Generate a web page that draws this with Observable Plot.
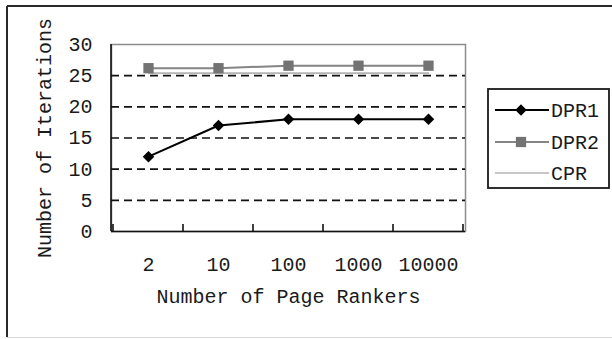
<!DOCTYPE html>
<html>
<head>
<meta charset="utf-8">
<script src="https://cdn.jsdelivr.net/npm/d3@7"></script>
<script src="https://cdn.jsdelivr.net/npm/@observablehq/plot@0.6"></script>
<style>
  html, body { margin: 0; padding: 0; background: #fff; }
  #chart { position: relative; width: 612px; height: 339px; overflow: hidden; }
</style>
</head>
<body>
<div id="chart"></div>
<script>
// Iterations needed to converge vs. number of page rankers
const categories = ["2", "10", "100", "1000", "10000"];
const dpr1 = [12, 17, 18, 18, 18];
const dpr2 = [26.2, 26.2, 26.6, 26.6, 26.6];
const cpr = [25.4, 25.4, 25.4, 25.4, 25.4];
const yTicks = [0, 5, 10, 15, 20, 25, 30];
const gridValues = [5, 10, 15, 20, 25];
const seriesNames = ["DPR1", "DPR2", "CPR"];
const xTitle = "Number of Page Rankers";
const yTitle = "Number of Iterations";

const rows = (vals) => categories.map((c, i) => ({cat: c, v: vals[i]}));
const d1 = rows(dpr1), d2 = rows(dpr2), d3c = rows(cpr);

const font = "'Liberation Mono', 'DejaVu Sans Mono', monospace";
const ink = "#1a1a1a";
const diamondR = 5.2, squareR = 5.8;

const chart = Plot.plot({
  width: 612,
  height: 339,
  marginLeft: 111,
  marginRight: 147,
  marginTop: 44,
  marginBottom: 108,
  x: {type: "band", domain: categories, padding: 0},
  y: {domain: [0, 30]},
  style: {fontFamily: font, fontSize: "20px", color: ink, background: "transparent", overflow: "visible"},
  marks: [
    Plot.frame({stroke: "#8c8c8c", strokeWidth: 1.5}),
    Plot.ruleY(gridValues, {stroke: "#111", strokeWidth: 1.6, strokeDasharray: "8,5"}),
    Plot.ruleY([0], {stroke: "#111", strokeWidth: 1.6}),
    Plot.axisY(yTicks, {tickSize: 0, tickPadding: 19, label: null, fontSize: 20}),
    Plot.axisX({tickSize: 0, tickPadding: 25, label: null, fontSize: 20}),
    Plot.line(d3c, {x: "cat", y: "v", stroke: "#b4b4b4", strokeWidth: 1.6}),
    Plot.line(d2, {x: "cat", y: "v", stroke: "#858585", strokeWidth: 2}),
    Plot.dot(d2, {x: "cat", y: "v", symbol: "square", r: squareR, fill: "#737373", stroke: "none"}),
    Plot.line(d1, {x: "cat", y: "v", stroke: "#000", strokeWidth: 2}),
    Plot.dot(d1, {x: "cat", y: "v", symbol: "diamond2", r: diamondR, fill: "#000", stroke: "none"}),
    Plot.text([yTitle], {text: d => d, frameAnchor: "left", textAnchor: "middle", rotate: -90, dx: -67, fontSize: 20, fill: ink}),
    Plot.text([xTitle], {text: d => d, frameAnchor: "bottom", textAnchor: "middle", dy: 71, fontSize: 20, fill: ink})
  ]
});

document.getElementById("chart").appendChild(chart);

// Extra decoration drawn with the plot's own scales
const svg = d3.select(chart);
const xs = chart.scale("x"), ys = chart.scale("y");
const x0 = xs.range[0];
const yBottom = ys.apply(0), yTop = ys.apply(30);

// Left axis line
svg.append("line")
  .attr("x1", x0).attr("x2", x0).attr("y1", yTop).attr("y2", yBottom)
  .attr("stroke", "#111").attr("stroke-width", 1.6);

// Category boundary ticks pointing into the plot
const bounds = categories.map(c => xs.apply(c)).concat([xs.apply(categories[categories.length - 1]) + xs.bandwidth]);
svg.append("g").selectAll("line").data(bounds).join("line")
  .attr("x1", d => d).attr("x2", d => d)
  .attr("y1", yBottom).attr("y2", yBottom - 7)
  .attr("stroke", "#111").attr("stroke-width", 1.6);

// Outer chart border
const border = svg.append("g");
border.append("line").attr("x1", 7).attr("x2", 7).attr("y1", 6).attr("y2", 337)
  .attr("stroke", "#2a2a2a").attr("stroke-width", 2);
border.append("line").attr("x1", 7).attr("x2", 612).attr("y1", 6).attr("y2", 6)
  .attr("stroke", "#2a2a2a").attr("stroke-width", 2);
border.append("line").attr("x1", 7).attr("x2", 612).attr("y1", 337.5).attr("y2", 337.5)
  .attr("stroke", "#d8d8d8").attr("stroke-width", 1);

// Legend
const lg = svg.append("g").attr("font-family", font).attr("font-size", 20)
  .attr("fill", ink).attr("text-anchor", "start");
lg.append("rect").attr("x", 488).attr("y", 89).attr("width", 121).attr("height", 99)
  .attr("fill", "white").attr("stroke", "#1a1a1a").attr("stroke-width", 1.8);
const entryY = [110, 142, 173];
const lineStyle = [
  {stroke: "#000", width: 2},
  {stroke: "#858585", width: 2},
  {stroke: "#b4b4b4", width: 1.6}
];
seriesNames.forEach((name, i) => {
  const y = entryY[i];
  lg.append("line").attr("x1", 495).attr("x2", 549).attr("y1", y).attr("y2", y)
    .attr("stroke", lineStyle[i].stroke).attr("stroke-width", lineStyle[i].width);
  if (i === 0) {
    lg.append("path").attr("transform", `translate(521,${y})`)
      .attr("d", d3.symbol(d3.symbolDiamond2, Math.PI * diamondR * diamondR)()).attr("fill", "#000");
  } else if (i === 1) {
    lg.append("path").attr("transform", `translate(521,${y})`)
      .attr("d", d3.symbol(d3.symbolSquare, Math.PI * squareR * squareR)()).attr("fill", "#737373");
  }
  lg.append("text").attr("x", 551).attr("y", y).attr("dy", "0.35em").text(name);
});
</script>
</body>
</html>
